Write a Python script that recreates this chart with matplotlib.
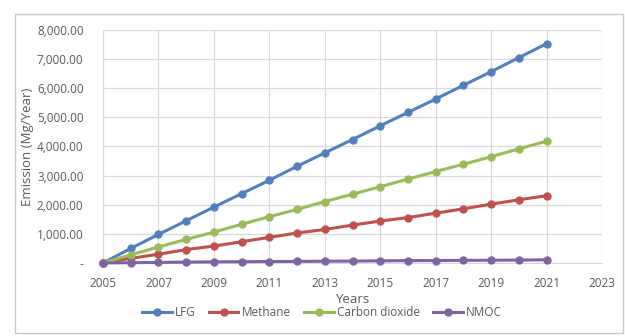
import matplotlib
matplotlib.use('Agg')
import matplotlib.pyplot as plt
import matplotlib.ticker as mticker
from matplotlib.patches import Rectangle

years = list(range(2005, 2022))
lfg = [0, 500, 980, 1450, 1920, 2380, 2840, 3320, 3780, 4240, 4710, 5170,
       5630, 6100, 6570, 7050, 7530]
methane = [0, 160, 300, 460, 580, 730, 880, 1030, 1150, 1300, 1440, 1560,
           1710, 1860, 2020, 2170, 2310]
co2 = [0, 280, 550, 810, 1060, 1330, 1590, 1840, 2110, 2360, 2620, 2880,
       3140, 3390, 3650, 3920, 4180]
nmoc = [0, 10, 20, 30, 40, 45, 50, 55, 60, 65, 75, 80, 85, 90, 95, 100, 110]

series = [('LFG', lfg, '#4f81bd'), ('Methane', methane, '#c0504d'),
          ('Carbon dioxide', co2, '#9bbb59'), ('NMOC', nmoc, '#8064a2')]

plt.rcParams['font.family'] = ['Open Sans', 'DejaVu Sans']
TXT = '#595959'

fig = plt.figure(figsize=(6.25, 3.36), dpi=100)
ax = fig.add_axes([0.1648, 0.2173, 0.7984, 0.6934])

# chart frame (selection border)
fig.patches.append(Rectangle((15 / 625, 3 / 336), 608 / 625, 319 / 336,
                             transform=fig.transFigure, fill=False,
                             ec='#c8c8c8', lw=1.0))

for name, vals, col in series:
    ax.plot(years, vals, color=col, lw=2.2, marker='o', ms=5, label=name,
            clip_on=False, zorder=3)

ax.set_xlim(2005, 2023)
ax.set_ylim(0, 8000)
ax.set_xticks(range(2005, 2024, 2))
ax.set_yticks(range(0, 8001, 1000))
ax.yaxis.set_major_formatter(mticker.FuncFormatter(
    lambda v, _: '-' if v == 0 else f'{v:,.2f}'))
ax.grid(True, color='#d9d9d9', lw=0.9)
ax.set_axisbelow(True)
for s in ['top', 'right', 'left']:
    ax.spines[s].set_visible(False)
ax.spines['bottom'].set_color('#d9d9d9')
ax.tick_params(length=0, labelsize=8.5, colors=TXT)
ax.tick_params(axis='x', pad=10)
ax.tick_params(axis='y', pad=14)
ax.set_xlabel('Years', fontsize=9.5, color=TXT, labelpad=2)
ax.set_ylabel('Emission (Mg/Year)', fontsize=9.5, color=TXT, labelpad=2)

fig.legend(*ax.get_legend_handles_labels(), loc='center',
           bbox_to_anchor=(322 / 625, 1 - 313 / 336), ncol=4,
           frameon=False, fontsize=8.5, labelcolor=TXT, handlelength=2.5,
           columnspacing=1.1, handletextpad=0.3, borderpad=0)

fig.savefig('out.png', dpi=100)
